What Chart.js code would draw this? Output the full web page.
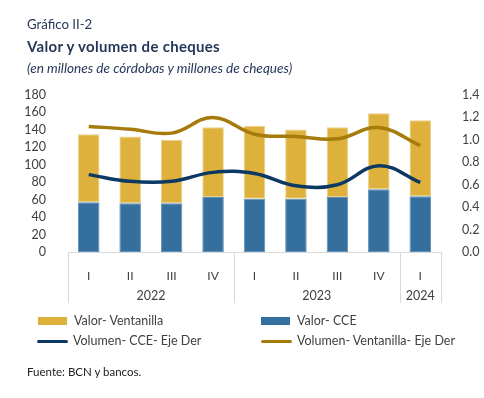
<!DOCTYPE html>
<html>
<head>
<meta charset="utf-8">
<script src="https://cdn.jsdelivr.net/npm/chart.js@4"></script>
<style>
  html, body { margin:0; padding:0; background:#fff; }
  body { width:484px; height:398px; position:relative; overflow:hidden; font-family: Lato, "Open Sans", sans-serif; }
  #c { position:absolute; left:0; top:0; }
  .t { position:absolute; left:27px; color:#26385a; white-space:nowrap; }
  #t1 { top:16px; font-size:13.2px; }
  #t2 { top:37px; font-size:15px; font-weight:bold; letter-spacing:0.3px; }
  #t3 { top:60px; font-size:13.6px; font-style:italic; }
  #src { position:absolute; left:27px; top:365px; font-size:11.5px; color:#222; }
  .lg { position:absolute; font-size:12.5px; color:#404040; white-space:nowrap; }
  .lg .sw { position:absolute; left:0; }
  .lg .tx { position:absolute; left:36px; top:-8px; }
</style>
</head>
<body>
<canvas id="c" width="484" height="398"></canvas>
<div class="t" id="t1">Gráfico II-2</div>
<div class="t" id="t2">Valor y volumen de cheques</div>
<div class="t" id="t3">(en millones de córdobas y millones de cheques)</div>
<div id="legend"></div>
<div id="src">Fuente: BCN y bancos.</div>
<script>
const quarters = ['I','II','III','IV','I','II','III','IV','I'];
const years = ['2022','2023','2024'];
const yearSpans = [4, 4, 1];
const valorCCE = [57, 56, 56, 63, 61, 61, 63, 72, 64];
const valorVentanilla = [78, 76.5, 72.5, 80, 83.5, 79.5, 80, 87, 87];
const volumenCCE = [0.69, 0.63, 0.63, 0.71, 0.70, 0.59, 0.60, 0.77, 0.62];
const volumenVentanilla = [1.12, 1.095, 1.06, 1.20, 1.05, 1.03, 1.01, 1.11, 0.95];
const leftTicks = { min: 0, max: 180, step: 20 };
const rightTicks = { min: 0, max: 1.4, step: 0.2 };

const yellow = '#DDB13B', blue = '#346F9D', navy = '#0B3963', gold = '#A57C0C';

const yearPlugin = {
  id: 'yearPlugin',
  afterDraw(chart) {
    const x = chart.scales.x, ctx = chart.ctx;
    const n = quarters.length;
    const w = (x.right - x.left) / n;
    const top = x.top, bottom = top + 51;
    ctx.save();
    ctx.strokeStyle = '#d9d9d9';
    ctx.lineWidth = 1;
    let idx = 0;
    const bounds = [x.left];
    yearSpans.forEach(s => { idx += s; bounds.push(x.getPixelForValue(idx - 1) + w / 2); });
    bounds.forEach(b => {
      const bx = Math.round(b) + 0.5;
      ctx.beginPath(); ctx.moveTo(bx, top); ctx.lineTo(bx, bottom); ctx.stroke();
    });
    ctx.fillStyle = '#404040';
    ctx.font = '12.5px Lato, "Open Sans", sans-serif';
    ctx.textAlign = 'center';
    ctx.textBaseline = 'middle';
    years.forEach((y, i) => {
      ctx.fillText(y, (bounds[i] + bounds[i + 1]) / 2, top + 44);
    });
    ctx.restore();
  }
};

const chart = new Chart(document.getElementById('c'), {
  type: 'bar',
  data: {
    labels: quarters,
    datasets: [
      { type: 'line', label: 'Volumen- CCE- Eje Der', data: volumenCCE, yAxisID: 'y1',
        borderColor: navy, backgroundColor: navy, borderWidth: 3.5, pointRadius: 0, tension: 0.4, order: 0 },
      { type: 'line', label: 'Volumen- Ventanilla- Eje Der', data: volumenVentanilla, yAxisID: 'y1',
        borderColor: gold, backgroundColor: gold, borderWidth: 3.5, pointRadius: 0, tension: 0.4, order: 0 },
      { label: 'Valor- CCE', data: valorCCE, yAxisID: 'y', stack: 's',
        backgroundColor: blue, borderColor: '#5f8fb8', borderWidth: 1, borderSkipped: false,
        barPercentage: 0.52, categoryPercentage: 1, order: 1 },
      { label: 'Valor- Ventanilla', data: valorVentanilla, yAxisID: 'y', stack: 's',
        backgroundColor: yellow, borderColor: '#ead08a', borderWidth: 1, borderSkipped: false,
        barPercentage: 0.52, categoryPercentage: 1, order: 1 }
    ]
  },
  options: {
    responsive: false,
    animation: false,
    layout: { padding: { top: 95, left: 0, right: 0, bottom: 0 } },
    plugins: { legend: { display: false }, tooltip: { enabled: false }, title: { display: false } },
    scales: {
      x: {
        stacked: true,
        grid: { display: false },
        border: { display: true, color: '#d9d9d9', width: 1 },
        ticks: { color: '#404040', font: { family: 'Lato', size: 12 }, padding: 9, maxRotation: 0, autoSkip: false },
        afterFit(s) { s.height = 146; }
      },
      y: {
        position: 'left', stacked: true,
        min: leftTicks.min, max: leftTicks.max,
        grid: { display: false }, border: { display: false },
        ticks: { stepSize: leftTicks.step, autoSkip: false, color: '#404040', font: { family: 'Lato', size: 12.5 }, padding: 14 },
        afterFit(s) { s.width = 68; }
      },
      y1: {
        position: 'right',
        min: rightTicks.min, max: rightTicks.max,
        grid: { display: false }, border: { display: false },
        ticks: { stepSize: rightTicks.step, autoSkip: false, color: '#404040', font: { family: 'Lato', size: 12.5 }, padding: 13,
          callback: v => Number(v).toFixed(1) },
        afterFit(s) { s.width = 43; }
      }
    }
  },
  plugins: [yearPlugin]
});

// HTML legend built from chart datasets
const legendOrder = ['Valor- Ventanilla', 'Valor- CCE', 'Volumen- CCE- Eje Der', 'Volumen- Ventanilla- Eje Der'];
const legendPos = [[38, 321], [261, 321], [37, 341], [261, 341]];
const lg = document.getElementById('legend');
legendOrder.forEach((name, i) => {
  const ds = chart.data.datasets.find(d => d.label === name);
  const isLine = ds.type === 'line';
  const el = document.createElement('div');
  el.className = 'lg';
  el.style.left = legendPos[i][0] + 'px';
  el.style.top = legendPos[i][1] + 'px';
  const sw = document.createElement('div');
  sw.className = 'sw';
  sw.style.width = (isLine ? 31 : 29) + 'px';
  sw.style.height = (isLine ? 3 : 8) + 'px';
  sw.style.top = (isLine ? -1.5 : -4) + 'px';
  sw.style.background = isLine ? ds.borderColor : ds.backgroundColor;
  if (isLine) sw.style.borderRadius = '2px';
  const tx = document.createElement('div');
  tx.className = 'tx';
  tx.textContent = name;
  el.appendChild(sw); el.appendChild(tx);
  lg.appendChild(el);
});
</script>
</body>
</html>
